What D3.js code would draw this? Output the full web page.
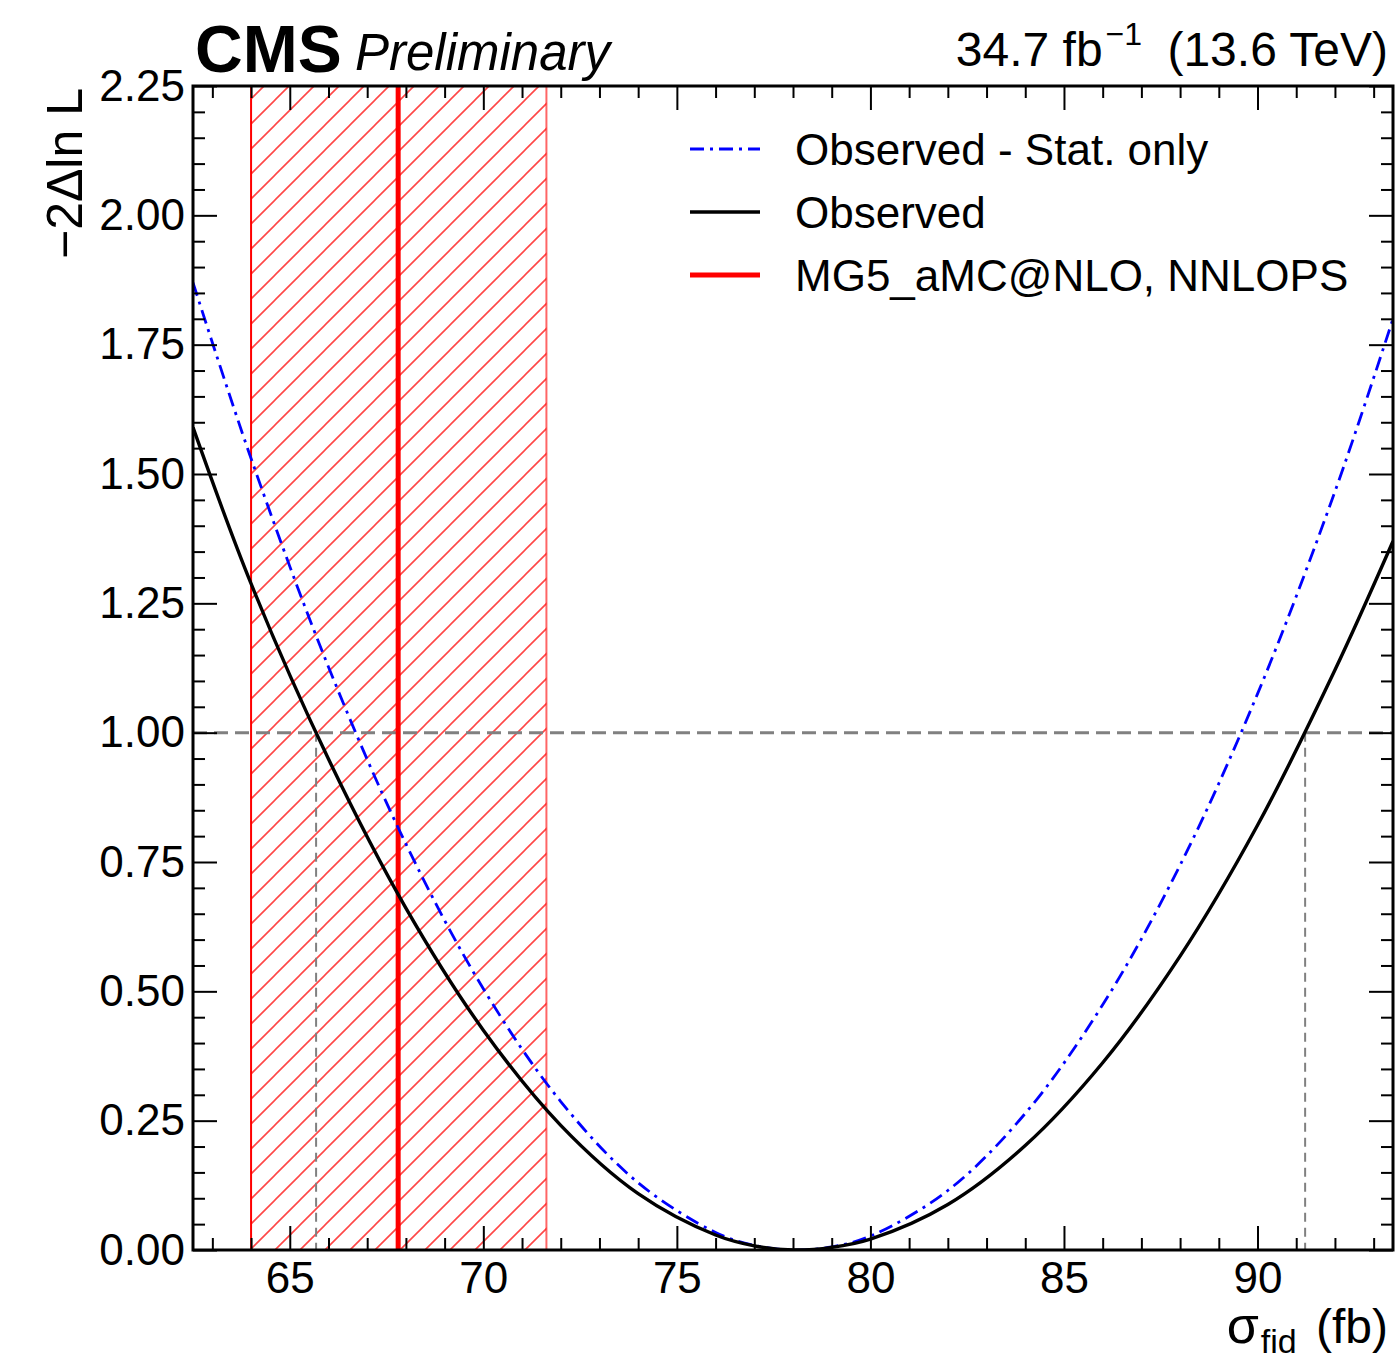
<!DOCTYPE html>
<html>
<head>
<meta charset="utf-8">
<script src="https://cdn.jsdelivr.net/npm/d3@7"></script>
<style>
  html, body { margin: 0; padding: 0; background: #fff; }
  svg { display: block; font-family: "Liberation Sans", Arial, Helvetica, sans-serif; }
</style>
</head>
<body>
<svg id="chart" width="1395" height="1361"></svg>
<script>
// values
const sigmaGrid = [62.5, 64, 66, 68, 70, 72, 74, 76, 77, 78, 79, 80, 82, 84, 86, 88, 90, 92, 93.5];
const observed  = [1.59, 1.288, 0.949, 0.661, 0.425, 0.241, 0.109, 0.029, 0.008, 0.0, 0.005, 0.021, 0.088, 0.202, 0.362, 0.568, 0.821, 1.121, 1.37];
const statOnly  = [1.87, 1.53, 1.127, 0.785, 0.505, 0.287, 0.130, 0.034, 0.009, 0.0, 0.006, 0.027, 0.115, 0.264, 0.474, 0.744, 1.075, 1.466, 1.80];
const predCentral = 67.8;
const predBand = [64.0, 71.63];
const oneSigmaLevel = 1.0;
const oneSigmaCross = [65.68, 91.23];
const xDomain = [62.5, 93.5];
const yDomain = [0, 2.25];
const xMajorTicks = [65, 70, 75, 80, 85, 90];
const yMajorTicks = [0, 0.25, 0.5, 0.75, 1.0, 1.25, 1.5, 1.75, 2.0, 2.25];
const legendEntries = [
  { label: "Observed - Stat. only", color: "#0000ff", width: 2.8, dash: "14 6 3 6" },
  { label: "Observed", color: "#000", width: 3.4, dash: null },
  { label: "MG5_aMC@NLO, NNLOPS", color: "#ff0000", width: 5, dash: null }
];

const svg = d3.select("#chart");
const margin = { top: 86, right: 2, bottom: 111, left: 193 };
const W = 1395, H = 1361;

const x = d3.scaleLinear().domain(xDomain).range([margin.left, W - margin.right]);
const y = d3.scaleLinear().domain(yDomain).range([H - margin.bottom, margin.top]);

const defs = svg.append("defs");
defs.append("clipPath").attr("id", "plotclip")
  .append("rect")
  .attr("x", x(xDomain[0])).attr("y", y(yDomain[1]))
  .attr("width", x(xDomain[1]) - x(xDomain[0]))
  .attr("height", y(0) - y(yDomain[1]));

// hatch pattern for the prediction band
const hs = 25;
const pat = defs.append("pattern").attr("id", "hatch")
  .attr("patternUnits", "userSpaceOnUse")
  .attr("width", hs).attr("height", hs);
pat.append("path")
  .attr("d", `M0,${hs} L${hs},0 M-6,6 L6,-6 M${hs - 6},${hs + 6} L${hs + 6},${hs - 6}`)
  .attr("stroke", "#ff0000").attr("stroke-opacity", 0.72)
  .attr("stroke-width", 1.6);

const plot = svg.append("g").attr("clip-path", "url(#plotclip)");

// prediction band
plot.append("rect")
  .attr("x", x(predBand[0])).attr("y", y(yDomain[1]))
  .attr("width", x(predBand[1]) - x(predBand[0]))
  .attr("height", y(0) - y(yDomain[1]))
  .attr("fill", "url(#hatch)");
plot.append("line")
  .attr("x1", x(predBand[0])).attr("x2", x(predBand[0]))
  .attr("y1", y(0)).attr("y2", y(yDomain[1]))
  .attr("stroke", "#ff0000").attr("stroke-width", 2);
plot.append("line")
  .attr("x1", x(predBand[1])).attr("x2", x(predBand[1]))
  .attr("y1", y(0)).attr("y2", y(yDomain[1]))
  .attr("stroke", "#ff0000").attr("stroke-opacity", 0.6).attr("stroke-width", 2);

// 1 sigma guide lines
plot.append("line")
  .attr("x1", x(xDomain[0])).attr("x2", x(xDomain[1]))
  .attr("y1", y(oneSigmaLevel)).attr("y2", y(oneSigmaLevel))
  .attr("stroke", "#808080").attr("stroke-width", 3)
  .attr("stroke-dasharray", "14 7");
plot.selectAll(".cross")
  .data(oneSigmaCross)
  .enter().append("line")
  .attr("x1", d => x(d)).attr("x2", d => x(d))
  .attr("y1", y(oneSigmaLevel)).attr("y2", y(0))
  .attr("stroke", "#808080").attr("stroke-width", 2)
  .attr("stroke-dasharray", "9 6");

// central prediction
plot.append("line")
  .attr("x1", x(predCentral)).attr("x2", x(predCentral))
  .attr("y1", y(0)).attr("y2", y(yDomain[1]))
  .attr("stroke", "#ff0000").attr("stroke-width", 5);

// likelihood scans
const line = d3.line()
  .x(d => x(d[0]))
  .y(d => y(d[1]))
  .curve(d3.curveCatmullRom.alpha(0.5));

plot.append("path")
  .datum(d3.zip(sigmaGrid, statOnly))
  .attr("d", line)
  .attr("fill", "none").attr("stroke", "#0000ff").attr("stroke-width", legendEntries[0].width)
  .attr("stroke-dasharray", legendEntries[0].dash);

plot.append("path")
  .datum(d3.zip(sigmaGrid, observed))
  .attr("d", line)
  .attr("fill", "none").attr("stroke", "#000").attr("stroke-width", legendEntries[1].width);

// axes (ROOT style, ticks pointing inward)
const fontSize = 44;
function styleAxis(g, labels) {
  g.select(".domain").remove();
  g.selectAll(".tick line").attr("stroke", "#000").attr("stroke-width", 2);
  if (labels) {
    g.selectAll(".tick text").attr("fill", "#000").attr("font-size", fontSize)
      .attr("font-family", '"Liberation Sans", Arial, Helvetica, sans-serif');
  } else {
    g.selectAll(".tick text").remove();
  }
}

const xMinor = x.ticks(31).filter(v => !xMajorTicks.includes(v));
const yMinor = y.ticks(45).filter(v => !yMajorTicks.some(t => Math.abs(t - v) < 1e-6));

// bottom
svg.append("g").attr("transform", `translate(0,${y(0)})`)
  .call(d3.axisBottom(x).tickValues(xMajorTicks).tickSize(-24).tickPadding(12).tickFormat(d3.format("d")))
  .call(g => styleAxis(g, true));
svg.append("g").attr("transform", `translate(0,${y(0)})`)
  .call(d3.axisBottom(x).tickValues(xMinor).tickSize(-12))
  .call(g => styleAxis(g, false));
// top
svg.append("g").attr("transform", `translate(0,${y(yDomain[1])})`)
  .call(d3.axisTop(x).tickValues(xMajorTicks).tickSize(-24))
  .call(g => styleAxis(g, false));
svg.append("g").attr("transform", `translate(0,${y(yDomain[1])})`)
  .call(d3.axisTop(x).tickValues(xMinor).tickSize(-12))
  .call(g => styleAxis(g, false));
// left
svg.append("g").attr("transform", `translate(${x(xDomain[0])},0)`)
  .call(d3.axisLeft(y).tickValues(yMajorTicks).tickSize(-24).tickPadding(8).tickFormat(d3.format(".2f")))
  .call(g => styleAxis(g, true));
svg.append("g").attr("transform", `translate(${x(xDomain[0])},0)`)
  .call(d3.axisLeft(y).tickValues(yMinor).tickSize(-12))
  .call(g => styleAxis(g, false));
// right
svg.append("g").attr("transform", `translate(${x(xDomain[1])},0)`)
  .call(d3.axisRight(y).tickValues(yMajorTicks).tickSize(-24))
  .call(g => styleAxis(g, false));
svg.append("g").attr("transform", `translate(${x(xDomain[1])},0)`)
  .call(d3.axisRight(y).tickValues(yMinor).tickSize(-12))
  .call(g => styleAxis(g, false));

// frame
svg.append("rect")
  .attr("x", x(xDomain[0])).attr("y", y(yDomain[1]))
  .attr("width", x(xDomain[1]) - x(xDomain[0]))
  .attr("height", y(0) - y(yDomain[1]))
  .attr("fill", "none").attr("stroke", "#000").attr("stroke-width", 3);

// axis titles
const xt = svg.append("text")
  .attr("x", 1388).attr("y", 1343)
  .attr("text-anchor", "end").attr("font-size", 48);
xt.append("tspan").attr("font-size", 52).text("σ");
xt.append("tspan").attr("font-size", 34).attr("dy", 10).attr("dx", 2).text("fid");
xt.append("tspan").attr("dy", -10).attr("dx", 6).text(" (fb)");

svg.append("text")
  .attr("transform", "translate(82,88) rotate(-90)")
  .attr("text-anchor", "end").attr("font-size", 50)
  .text("−2Δln L");

// header
svg.append("text").attr("x", 195).attr("y", 72)
  .attr("font-size", 66).attr("font-weight", "bold").text("CMS");
svg.append("text").attr("x", 355).attr("y", 70)
  .attr("font-size", 51).attr("font-style", "italic").text("Preliminary");

const lumi = svg.append("text").attr("x", 1388).attr("y", 66)
  .attr("text-anchor", "end").attr("font-size", 48);
lumi.append("tspan").text("34.7 fb");
lumi.append("tspan").attr("font-size", 32).attr("dy", -21).attr("dx", 3).text("−1");
lumi.append("tspan").attr("dy", 21).attr("dx", 12).text(" (13.6 TeV)");

// legend
const legendY = [149, 212, 275];
const leg = svg.append("g");
legendEntries.forEach((e, i) => {
  leg.append("line")
    .attr("x1", 690).attr("x2", 760)
    .attr("y1", legendY[i]).attr("y2", legendY[i])
    .attr("stroke", e.color).attr("stroke-width", e.width)
    .attr("stroke-dasharray", e.dash);
  leg.append("text")
    .attr("x", 795).attr("y", legendY[i] + 16)
    .attr("font-size", fontSize).text(e.label);
});
</script>
</body>
</html>
